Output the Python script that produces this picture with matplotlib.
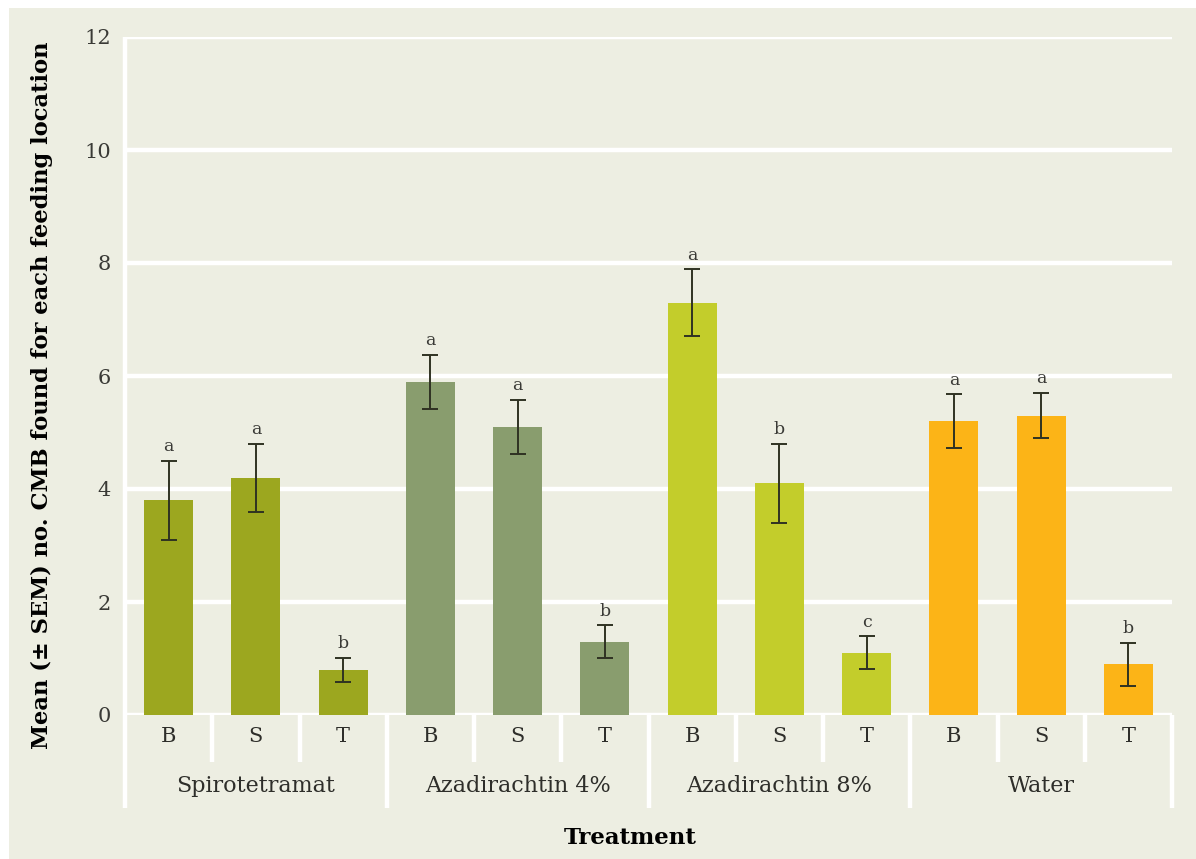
import matplotlib
matplotlib.use("Agg")
import matplotlib.pyplot as plt
import matplotlib.transforms as mtransforms
import numpy as np

# Data: mean number of CMB per feeding location (B, S, T) for each treatment
treatments = ["Spirotetramat", "Azadirachtin 4%", "Azadirachtin 8%", "Water"]
locations = ["B", "S", "T"]
means_spirotetramat = [3.8, 4.2, 0.8]
means_aza4 = [5.9, 5.1, 1.3]
means_aza8 = [7.3, 4.1, 1.1]
means_water = [5.2, 5.3, 0.9]
sem_spirotetramat = [0.7, 0.6, 0.21]
sem_aza4 = [0.48, 0.48, 0.29]
sem_aza8 = [0.59, 0.7, 0.29]
sem_water = [0.48, 0.4, 0.38]
letters_spirotetramat = ["a", "a", "b"]
letters_aza4 = ["a", "a", "b"]
letters_aza8 = ["a", "b", "c"]
letters_water = ["a", "a", "b"]
y_ticks = [0, 2, 4, 6, 8, 10, 12]

means = [means_spirotetramat, means_aza4, means_aza8, means_water]
sems = [sem_spirotetramat, sem_aza4, sem_aza8, sem_water]
letters = [letters_spirotetramat, letters_aza4, letters_aza8, letters_water]
colors = ["#9ca71f", "#899d6e", "#c3cd2b", "#fcb417"]

BG = "#edeee2"
TXT = "#2e2e2a"
SERIF = ["DejaVu Serif"]

W, H = 1196, 859
fig = plt.figure(figsize=(W / 100, H / 100), dpi=100, facecolor="white")

# beige panel with a thin white margin at top and left
fig.patches.append(plt.Rectangle((9 / W, -0.01), 1.1, 1.01 - 8 / H, transform=fig.transFigure,
                                 facecolor=BG, edgecolor="none", zorder=-10))

left, right, top, bottom = 125, 1172, 37, 715
ax = fig.add_axes([left / W, 1 - bottom / H, (right - left) / W, (bottom - top) / H])
ax.set_facecolor(BG)
for s in ax.spines.values():
    s.set_visible(False)

n_groups = len(treatments)
n_loc = len(locations)
ax.set_xlim(-0.5, n_groups * n_loc - 0.5)
ax.set_ylim(0, 12)

# white horizontal gridlines
for t in y_ticks:
    ax.axhline(t, color="white", lw=3.2, zorder=0)

ax.set_yticks(y_ticks)
ax.set_yticklabels([str(t) for t in y_ticks], fontfamily=SERIF, fontsize=15, color="#3a3a36")
ax.tick_params(axis="y", length=0, pad=10)
ax.set_xticks([])

# bars with error bars and significance letters
for g in range(n_groups):
    for i in range(n_loc):
        x = g * n_loc + i
        m = means[g][i]
        e = sems[g][i]
        ax.bar(x, m, width=0.56, color=colors[g], zorder=2)
        ax.errorbar(x, m, yerr=e, fmt="none", ecolor="#2f3222", elinewidth=1.4,
                    capsize=5.8, capthick=1.4, zorder=3)
        ax.annotate(letters[g][i], (x, m + e), xytext=(0, 4), textcoords="offset points",
                    ha="center", va="bottom", fontfamily=SERIF, fontsize=12.5, color="#3a3a36")

# category axis below the plot: separators and labels
trans = mtransforms.blended_transform_factory(ax.transData, ax.transAxes)
axh = bottom - top
y_short = -(762 - bottom) / axh
y_long = -(808 - bottom) / axh
for k in range(n_groups * n_loc + 1):
    xb = k - 0.5
    if k % n_loc == 0:
        y0 = y_long
        y1 = 1.0 if k == 0 else 0
    else:
        y0, y1 = y_short, 0
    ax.plot([xb, xb], [y0, y1], color="white", lw=3.2, transform=trans,
            clip_on=False, zorder=1, solid_capstyle="butt")

for g in range(n_groups):
    for i in range(n_loc):
        x = g * n_loc + i
        ax.text(x, -(737 - bottom) / axh, locations[i], transform=trans, ha="center",
                va="center", fontfamily=SERIF, fontsize=15, color=TXT)
    ax.text(g * n_loc + 1, -(786 - bottom) / axh, treatments[g], transform=trans,
            ha="center", va="center", fontfamily=SERIF, fontsize=16, color=TXT)

fig.text(630 / W, 1 - 838 / H, "Treatment", ha="center", va="center",
         fontfamily=SERIF, fontweight="bold", fontsize=16.5, color="black")
fig.text(42 / W, 1 - 395 / H, "Mean (\u00b1 SEM) no. CMB found for each feeding location",
         rotation=90, ha="center", va="center", fontfamily=SERIF, fontweight="bold",
         fontsize=16.3, color="black")

fig.savefig("out.png", dpi=100, facecolor="white")
